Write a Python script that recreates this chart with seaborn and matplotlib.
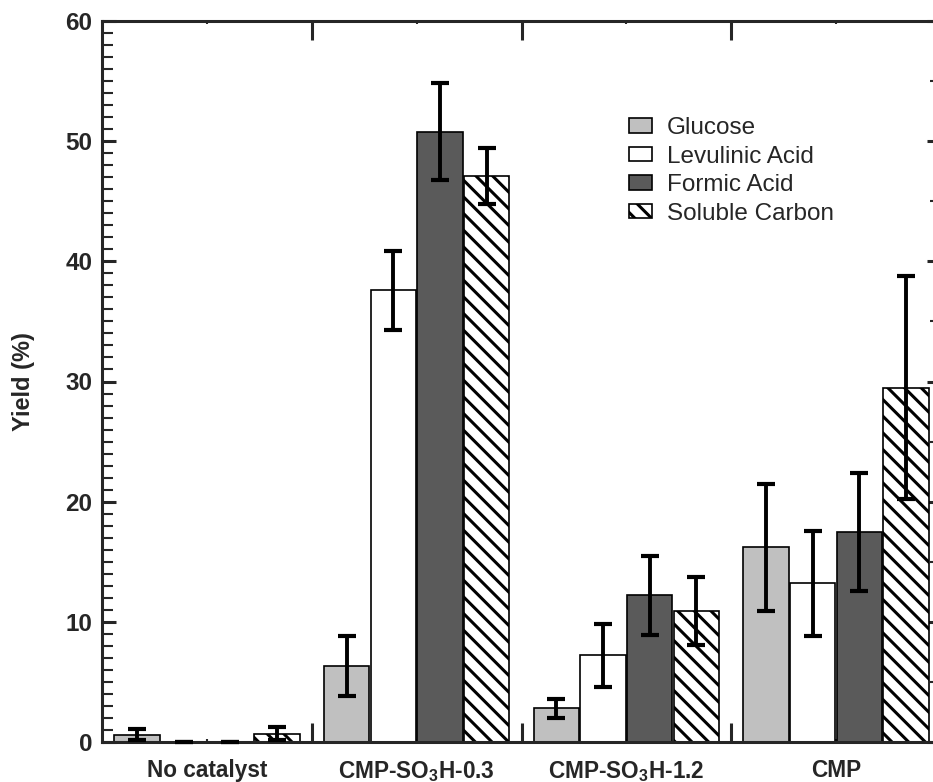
import numpy as np
import pandas as pd
import matplotlib
matplotlib.use("Agg")
import matplotlib.pyplot as plt
import seaborn as sns
from matplotlib.ticker import MultipleLocator, FixedLocator
from matplotlib.patches import Patch

# ---- data ----
categories = ["No catalyst", "CMP-SO3H-0.3", "CMP-SO3H-1.2", "CMP"]
category_labels = ["No catalyst", "CMP-SO$_\\mathbf{3}$H-0.3", "CMP-SO$_\\mathbf{3}$H-1.2", "CMP"]
series = ["Glucose", "Levulinic Acid", "Formic Acid", "Soluble Carbon"]
glucose = [0.6, 6.3, 2.8, 16.2]
glucose_err = [0.45, 2.5, 0.8, 5.3]
levulinic = [0.0, 37.6, 7.2, 13.2]
levulinic_err = [0.0, 3.3, 2.6, 4.35]
formic = [0.0, 50.8, 12.2, 17.5]
formic_err = [0.0, 4.05, 3.3, 4.9]
soluble = [0.7, 47.1, 10.9, 29.5]
soluble_err = [0.55, 2.3, 2.8, 9.3]
y_ticks = [0, 10, 20, 30, 40, 50, 60]

values = [glucose, levulinic, formic, soluble]
errors = [glucose_err, levulinic_err, formic_err, soluble_err]
fills = ["#c0c0c0", "#ffffff", "#5a5a5a", "#ffffff"]
hatches = [None, None, None, "\\\\"]

rows = []
for s, vals in zip(series, values):
    for c, v in zip(categories, vals):
        rows.append({"catalyst": c, "product": s, "yield": v})
df = pd.DataFrame(rows)

# ---- style ----
sns.set_style("ticks")
plt.rcParams["font.family"] = ["Liberation Sans", "DejaVu Sans"]
plt.rcParams["font.weight"] = "bold"
plt.rcParams["mathtext.fontset"] = "custom"
plt.rcParams["mathtext.bf"] = "Liberation Sans:bold"
plt.rcParams["mathtext.rm"] = "Liberation Sans:bold"
plt.rcParams["hatch.linewidth"] = 2.2
plt.rcParams["hatch.color"] = "black"

fig = plt.figure(figsize=(9.33, 7.82), dpi=100)
W, H = 933.0, 782.0
left, right, top, bottom = 102, 941, 21, 742
ax = fig.add_axes([left / W, 1 - bottom / H, (right - left) / W, (bottom - top) / H])

sns.barplot(data=df, x="catalyst", y="yield", hue="product", order=categories,
            hue_order=series, palette=dict(zip(series, fills)), saturation=1,
            width=0.89, gap=0.03, edgecolor="black", linewidth=1.2,
            errorbar=None, legend=False, ax=ax)

bar_containers = list(ax.containers)
for i, cont in enumerate(bar_containers):
    xs = []
    for bar in cont:
        xs.append(bar.get_x() + bar.get_width() / 2)
        if hatches[i]:
            bar.set_hatch(hatches[i])
    ax.errorbar(xs, values[i], yerr=errors[i], fmt="none", ecolor="black",
                elinewidth=2.8, capsize=6.3, capthick=3.0, zorder=5, clip_on=False)

ax.set_xlim(-0.5, 3.5)
ax.set_ylim(0, 60)
ax.set_yticks(y_ticks)
ax.yaxis.set_minor_locator(MultipleLocator(1))
ax.set_xticks(range(len(categories)))
ax.set_xticklabels(category_labels)
ax.xaxis.set_minor_locator(FixedLocator([0.5, 1.5, 2.5]))

ax.tick_params(axis="y", which="major", direction="in", length=10, width=2.2,
               labelsize=17.5, pad=7, left=True, right=False)
ax.tick_params(axis="y", which="minor", direction="in", length=8, width=1.5,
               left=True, right=False)
ax.tick_params(axis="x", which="major", direction="in", length=2, width=1.5,
               labelsize=16.3, pad=12, top=True, bottom=True)
ax.tick_params(axis="x", which="minor", direction="in", length=14, width=2.2,
               top=True, bottom=True)

sec = ax.secondary_yaxis("right")
sec.yaxis.set_major_locator(MultipleLocator(10))
sec.yaxis.set_minor_locator(MultipleLocator(5))
sec.tick_params(which="major", direction="in", length=10, width=2.2, labelright=False)
sec.tick_params(which="minor", direction="in", length=8, width=1.5)

for sp in ax.spines.values():
    sp.set_linewidth(2.2)
    sp.set_visible(True)

ax.set_xlabel("")
ax.set_ylabel("Yield (%)", fontsize=17, fontweight="bold")
ax.yaxis.set_label_coords((35 - left) / (right - left), 0.5)

handles = [Patch(facecolor=f, edgecolor="black", hatch=h, linewidth=1.2, label=s)
           for s, f, h in zip(series, fills, hatches)]
ax.legend(handles=handles, loc="upper left",
          bbox_to_anchor=((629 - left) / (right - left), (bottom - 117) / (bottom - top)),
          frameon=False, borderpad=0, borderaxespad=0, handlelength=0.95,
          handleheight=0.55, handletextpad=0.6, labelspacing=0.27,
          prop={"weight": "normal", "size": 17.5})

fig.savefig("out.png", dpi=100)
